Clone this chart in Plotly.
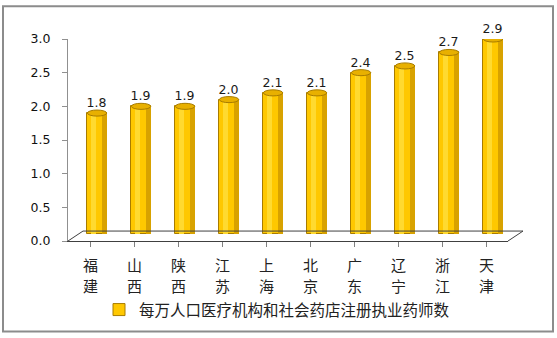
import plotly.graph_objects as go

categories = ["福建", "山西", "陕西", "江苏", "上海", "北京", "广东", "辽宁", "浙江", "天津"]
values = [1.8, 1.9, 1.9, 2.0, 2.1, 2.1, 2.4, 2.5, 2.7, 2.9]
series_name = "每万人口医疗机构和社会药店注册执业药师数"
y_ticks = [0.0, 0.5, 1.0, 1.5, 2.0, 2.5, 3.0]

xs = list(range(len(categories)))

W, H = 557, 338
L, R, T, B = 68, 49, 39, 96
pw, ph = W - L - R, H - T - B

def px(x):
    return (x - L) / pw

def py(y):
    return (H - B - y) / ph

# bars sit mid-depth on the 3D floor: same scale, lifted ~7px
bar_range = [-0.1, 2.9]

fig = go.Figure()
# empty trace so the visible value axis is drawn
fig.add_trace(go.Scatter(x=[], y=[], showlegend=False, hoverinfo="skip", yaxis="y"))
fig.add_trace(go.Bar(
    x=xs, y=values, name=series_name, yaxis="y2",
    width=0.44, offset=-0.06,
    marker=dict(color="#FFC800", line=dict(color="#A87C00", width=1)),
    text=[f"{v:.1f}" for v in values], textposition="outside",
    textfont=dict(family="DejaVu Sans", size=12.5, color="#1a1a1a"),
    cliponaxis=False,
))
fig.add_trace(go.Bar(
    x=xs, y=values, showlegend=False, hoverinfo="skip", yaxis="y2",
    width=0.1, offset=0.28,
    marker=dict(color="#D8A200", line=dict(width=0)),
))
fig.add_trace(go.Bar(
    x=xs, y=values, showlegend=False, hoverinfo="skip", yaxis="y2",
    width=0.1, offset=0.03,
    marker=dict(color="#FFDA30", line=dict(width=0)),
))

shapes = []
for x, v in zip(xs, values):
    shapes.append(dict(type="circle", xref="x", yref="y2",
                       x0=x - 0.06, x1=x + 0.38, y0=v - 0.045, y1=v + 0.045,
                       fillcolor="#E8B000", line=dict(color="#A87C00", width=1)))
shapes.append(dict(type="rect", xref="paper", yref="paper",
                   x0=px(3), x1=px(553), y0=py(6), y1=py(333),
                   line=dict(color="#8c8c8c", width=2)))
floor = dict(color="#404040", width=1)
shapes.append(dict(type="line", xref="paper", yref="paper", x0=px(68), y0=py(242), x1=px(83), y1=py(232), line=floor))
shapes.append(dict(type="line", xref="paper", yref="paper", x0=px(83), y0=py(232), x1=px(523), y1=py(232), line=floor))
shapes.append(dict(type="line", xref="paper", yref="paper", x0=px(508), y0=py(242), x1=px(523), y1=py(232), line=floor))

annotations = []
for x, c in zip(xs, categories):
    for i, ch in enumerate(c):
        annotations.append(dict(x=x, xref="x", y=py(266 + 21 * i), yref="paper",
                                text=ch, showarrow=False, xanchor="center", yanchor="middle",
                                font=dict(family="Noto Sans CJK SC", size=15, color="#222")))

fig.update_layout(
    width=W, height=H,
    margin=dict(l=L, r=R, t=T, b=B),
    paper_bgcolor="white", plot_bgcolor="white",
    barmode="overlay", bargap=0,
    shapes=shapes, annotations=annotations,
    showlegend=True,
    legend=dict(orientation="h", x=px(99), xanchor="left", y=py(310), yanchor="middle",
                font=dict(family="Noto Sans CJK SC", size=15.5, color="#222"),
                itemwidth=30),
    xaxis=dict(
        tickmode="array", tickvals=xs, ticktext=["" for _ in xs],
        range=[-0.5, len(categories) - 0.5],
        showline=True, linecolor="#404040", linewidth=1,
        ticks="outside", tickson="boundaries", ticklen=5, tickcolor="#808080",
        showgrid=False, zeroline=False,
    ),
    yaxis=dict(
        range=[0, 3.0], tickvals=y_ticks, ticktext=[f"{t:.1f}" for t in y_ticks],
        showline=True, linecolor="#909090", linewidth=1,
        ticks="outside", ticklen=5, tickcolor="#909090",
        ticklabelstandoff=9,
        tickfont=dict(family="DejaVu Sans", size=12.5, color="#111"),
        showgrid=False, zeroline=False,
    ),
    yaxis2=dict(range=bar_range, overlaying="y", visible=False),
)
fig.write_html("out.html")
